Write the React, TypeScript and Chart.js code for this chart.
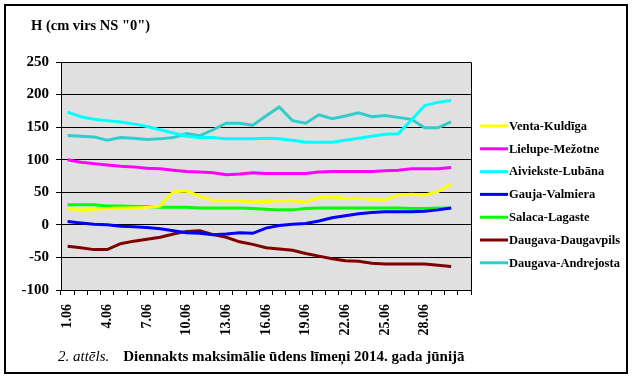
import React, { useEffect, useRef } from "react";
import { Chart, registerables } from "chart.js";

Chart.register(...registerables);

const FONT = '"Liberation Serif", "Times New Roman", serif';

const days = [
  "1.06", "2.06", "3.06", "4.06", "5.06", "6.06", "7.06", "8.06", "9.06", "10.06",
  "11.06", "12.06", "13.06", "14.06", "15.06", "16.06", "17.06", "18.06", "19.06", "20.06",
  "21.06", "22.06", "23.06", "24.06", "25.06", "26.06", "27.06", "28.06", "29.06", "30.06", "",
];

const ventaKuldiga = [25, 23, 24, 25, 26, 26, 27, 29, 51, 52, 44, 37, 37, 37, 35, 36, 37, 37, 35, 42, 43, 40, 41, 39, 38, 46, 47, 46, 51, 62];
const lielupeMezotne = [100, 96, 94, 92, 90, 89, 87, 86, 84, 82, 81, 80, 77, 78, 80, 79, 79, 79, 79, 81, 82, 82, 82, 82, 83, 84, 86, 86, 86, 88];
const aivieksteLubana = [173, 166, 162, 160, 158, 155, 151, 146, 141, 136, 134, 134, 132, 132, 132, 133, 132, 130, 127, 127, 127, 130, 133, 136, 139, 140, 161, 183, 188, 191];
const gaujaValmiera = [5, 3, 1, 0, -2, -3, -4, -6, -9, -12, -13, -15, -14, -12, -13, -5, -1, 1, 2, 6, 11, 14, 17, 19, 20, 20, 20, 21, 23, 26];
const salacaLagaste = [31, 31, 31, 29, 29, 28, 28, 27, 27, 27, 26, 26, 26, 26, 25, 24, 23, 23, 25, 26, 26, 26, 26, 26, 26, 26, 25, 25, 26, 26];
const daugavaDaugavpils = [-33, -35, -38, -38, -29, -25, -22, -19, -14, -10, -9, -15, -19, -26, -30, -35, -37, -39, -44, -48, -52, -55, -56, -59, -60, -60, -60, -60, -62, -64];
const daugavaAndrejosta = [137, 136, 135, 130, 134, 133, 131, 132, 134, 140, 137, 146, 156, 156, 153, 167, 181, 160, 156, 169, 163, 167, 172, 166, 168, 165, 162, 149, 149, 158];

const seriesNames = [
  "Venta-Kuldīga",
  "Lielupe-Mežotne",
  "Aiviekste-Lubāna",
  "Gauja-Valmiera",
  "Salaca-Lagaste",
  "Daugava-Daugavpils",
  "Daugava-Andrejosta",
];
const seriesValues = [ventaKuldiga, lielupeMezotne, aivieksteLubana, gaujaValmiera, salacaLagaste, daugavaDaugavpils, daugavaAndrejosta];
const seriesColors = ["#FFFF00", "#FF00FF", "#00FFFF", "#0000FF", "#00FF00", "#800000", "#33CCCC"];

const yMin = -100;
const yMax = 250;
const yStep = 50;

const titleText = 'H (cm virs NS "0")';
const captionItalic = "2. attēls.";
const captionBold = "Diennakts maksimālie ūdens līmeņi 2014. gada jūnijā";

const decorPlugin = {
  id: "decor",
  beforeDraw(chart: any) {
    const { ctx, chartArea } = chart;
    ctx.save();
    ctx.fillStyle = "#FFFFFF";
    ctx.fillRect(0, 0, chart.width, chart.height);
    ctx.fillStyle = "#E0E0E0";
    ctx.fillRect(chartArea.left, chartArea.top, chartArea.right - chartArea.left, chartArea.bottom - chartArea.top);
    ctx.restore();
  },
  afterDraw(chart: any) {
    const { ctx, chartArea } = chart;
    ctx.save();
    ctx.strokeStyle = "#000";
    ctx.lineWidth = 1;
    ctx.beginPath();
    ctx.moveTo(chartArea.left, chartArea.top + 0.5);
    ctx.lineTo(chartArea.right + 0.5, chartArea.top + 0.5);
    ctx.lineTo(chartArea.right + 0.5, chartArea.bottom);
    ctx.stroke();
    ctx.lineWidth = 2;
    ctx.strokeRect(5, 5, 622, 368);
    ctx.fillStyle = "#000";
    ctx.textBaseline = "alphabetic";
    ctx.textAlign = "left";
    ctx.font = `bold 14.5px ${FONT}`;
    ctx.fillText(titleText, 31, 30);
    ctx.font = `italic 15px ${FONT}`;
    ctx.fillText(captionItalic, 58, 361);
    const w = ctx.measureText(captionItalic).width;
    ctx.font = `bold 15px ${FONT}`;
    ctx.fillText(captionBold, 58 + w + 14, 361);
    ctx.font = `bold 12.5px ${FONT}`;
    ctx.textBaseline = "middle";
    chart.data.datasets.forEach((ds: any, i: number) => {
      const y = 126 + i * 22.8;
      ctx.strokeStyle = ds.borderColor;
      ctx.lineWidth = 3;
      ctx.beginPath();
      ctx.moveTo(480, y);
      ctx.lineTo(508, y);
      ctx.stroke();
      ctx.fillStyle = "#000";
      ctx.fillText(ds.label, 509, y + 0.5);
    });
    ctx.restore();
  },
};

export default function App() {
  const ref = useRef<HTMLCanvasElement | null>(null);
  useEffect(() => {
    document.body.style.margin = "0";
    const canvas = ref.current!;
    const chart = new Chart(canvas, {
      type: "line",
      data: {
        labels: days,
        datasets: seriesNames.map((name, i) => ({
          label: name,
          data: seriesValues[i],
          borderColor: seriesColors[i],
          backgroundColor: seriesColors[i],
          borderWidth: 3,
          pointRadius: 0,
          tension: 0,
          fill: false,
        })),
      },
      options: {
        responsive: false,
        animation: false,
        devicePixelRatio: 1,
        layout: { padding: { top: 62, right: 161, left: 0, bottom: 0 } },
        plugins: { legend: { display: false }, tooltip: { enabled: false }, title: { display: false } },
        scales: {
          x: {
            type: "category",
            offset: true,
            afterFit: (s: any) => { s.height = 88; },
            grid: { display: true, offset: true, drawOnChartArea: false, color: "#000", tickLength: 5, lineWidth: 1 },
            border: { display: true, color: "#000", width: 1 },
            ticks: {
              autoSkip: false,
              maxRotation: 90,
              minRotation: 90,
              padding: 9,
              color: "#000",
              font: { family: FONT, size: 14, weight: "bold" },
              callback: (_v: any, idx: number) => (idx % 3 === 0 ? days[idx] : ""),
            },
          },
          y: {
            min: yMin,
            max: yMax,
            afterFit: (s: any) => { s.width = 61; },
            grid: { color: "#000", lineWidth: 1, tickLength: 5, drawOnChartArea: true },
            border: { display: true, color: "#000", width: 1 },
            ticks: {
              stepSize: yStep,
              padding: 7,
              color: "#000",
              font: { family: FONT, size: 15, weight: "bold" },
            },
          },
        },
      },
      plugins: [decorPlugin],
    });
    return () => chart.destroy();
  }, []);
  return (
    <div style={{ width: 632, height: 378 }}>
      <canvas ref={ref} width={632} height={378} style={{ display: "block" }} />
    </div>
  );
}
